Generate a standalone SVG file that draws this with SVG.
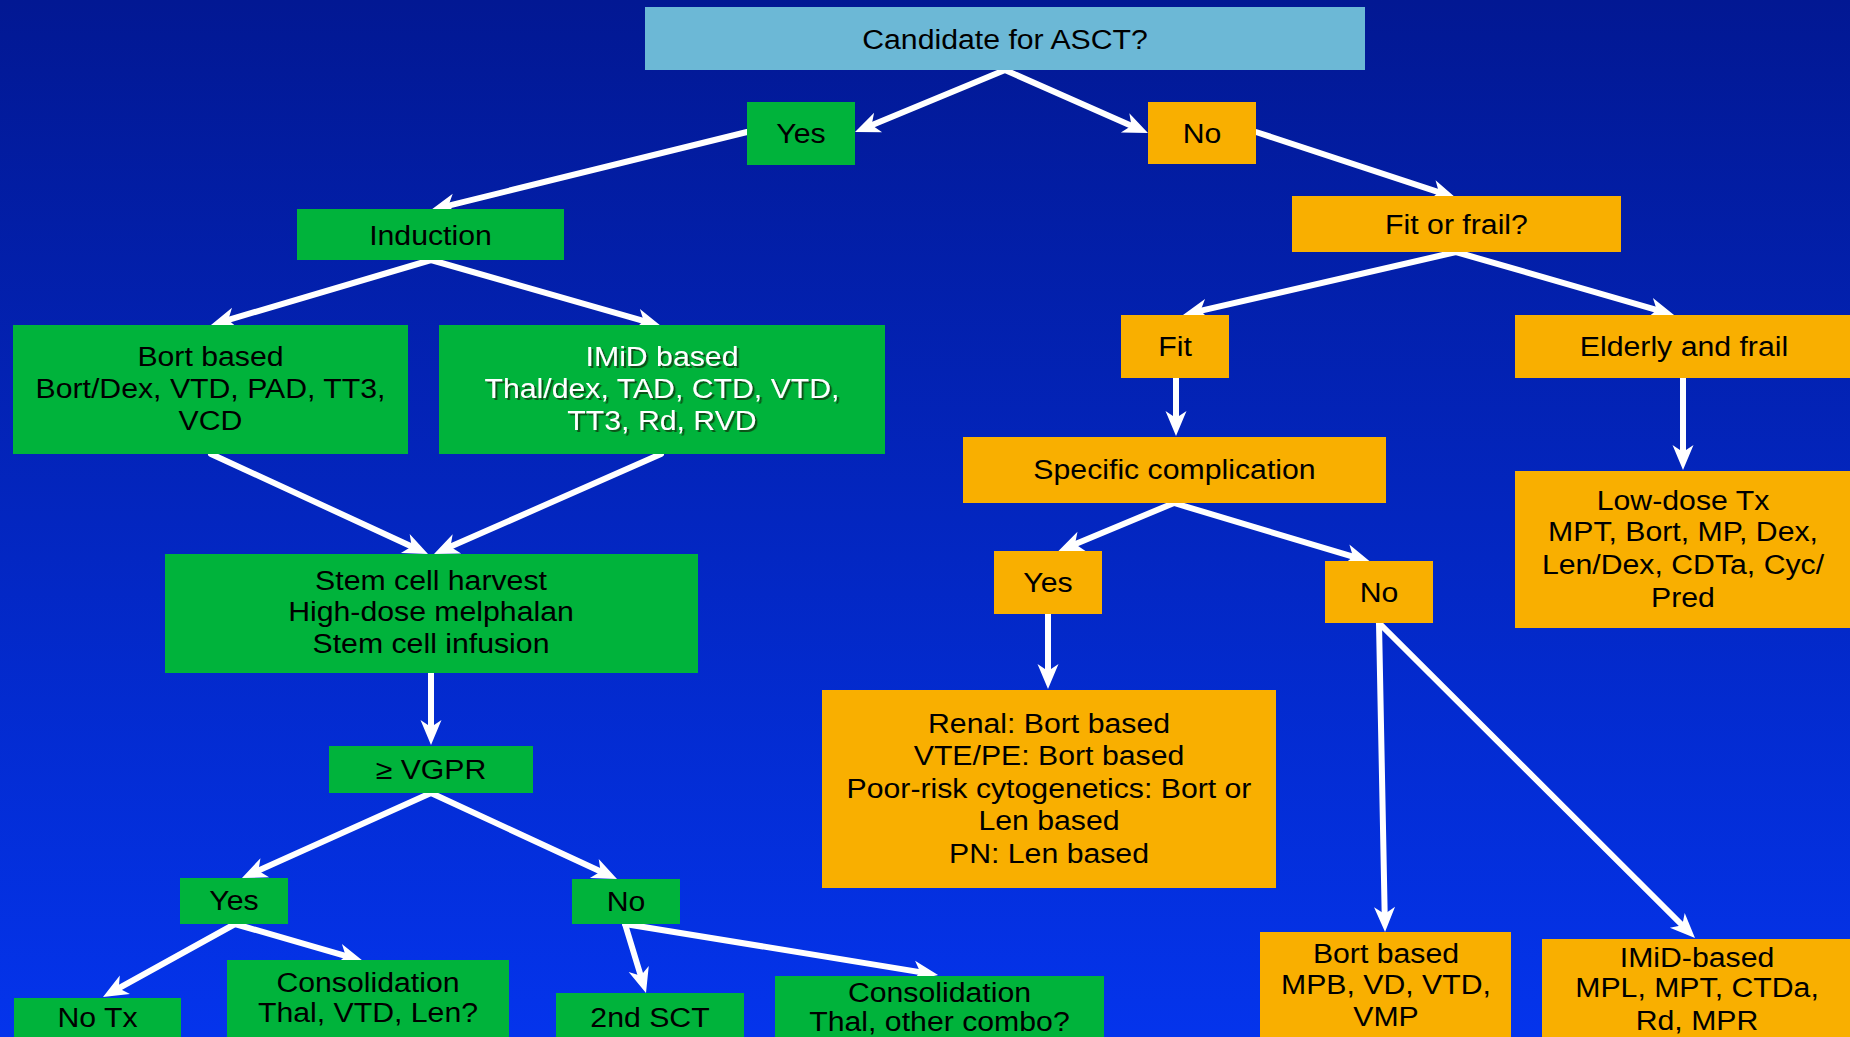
<svg xmlns="http://www.w3.org/2000/svg" width="1850" height="1037" viewBox="0 0 1850 1037">
<defs>
<linearGradient id="bg" x1="0" y1="0" x2="0" y2="1">
<stop offset="0" stop-color="#021893"/>
<stop offset="1" stop-color="#0434EC"/>
</linearGradient>
<marker id="ah" viewBox="-14 -11 28 22" refX="0" refY="0" markerWidth="28" markerHeight="22" markerUnits="userSpaceOnUse" orient="auto">
<path d="M12,0 L-13,-10.5 L-6,0 L-13,10.5 Z" fill="#fff"/>
</marker>
<filter id="sh" x="-10%" y="-10%" width="120%" height="130%">
<feDropShadow dx="2" dy="2" stdDeviation="0.6" flood-color="#0a3a10" flood-opacity="0.8"/>
</filter>
</defs>
<style>
.t{font-family:"Liberation Sans",Arial,sans-serif;font-size:27px;fill:#000;text-anchor:middle}
.w{fill:#fff;filter:url(#sh)}
.g{fill:#00B33B}
.o{fill:#F9AF00}
.b{fill:#6CB8D6}
.c line{stroke:#fff;stroke-width:6;stroke-linecap:round;marker-end:url(#ah)}
</style>
<rect width="1850" height="1037" fill="url(#bg)"/>

<g id="connectors" class="c">
<line x1="1005" y1="70" x2="866.1" y2="127.4"/>
<line x1="1005" y1="70" x2="1137" y2="128.2"/>
<line x1="747" y1="132" x2="442.6" y2="207.1"/>
<line x1="1256" y1="132" x2="1444.6" y2="194.2"/>
<line x1="431" y1="260" x2="222.5" y2="321.6"/>
<line x1="431" y1="260" x2="649.5" y2="322.7"/>
<line x1="211" y1="454" x2="417.1" y2="548.9"/>
<line x1="661" y1="454" x2="445" y2="549.1"/>
<line x1="431" y1="673" x2="431" y2="733"/>
<line x1="431" y1="793" x2="252.9" y2="873.1"/>
<line x1="431" y1="793" x2="606.1" y2="874"/>
<line x1="235" y1="924" x2="113.5" y2="991.1"/>
<line x1="235" y1="924" x2="351.5" y2="957.6"/>
<line x1="625" y1="924" x2="642.5" y2="981.5"/>
<line x1="625" y1="924" x2="926.2" y2="973.1"/>
<line x1="1456" y1="252" x2="1194.7" y2="312.2"/>
<line x1="1456" y1="252" x2="1662.5" y2="311.6"/>
<line x1="1176" y1="378" x2="1176" y2="424"/>
<line x1="1683" y1="378" x2="1683" y2="458"/>
<line x1="1174" y1="503" x2="1069.5" y2="546.4"/>
<line x1="1174" y1="503" x2="1358.8" y2="558.4"/>
<line x1="1048" y1="614" x2="1048" y2="677"/>
<line x1="1379" y1="623" x2="1384.8" y2="920"/>
<line x1="1379" y1="623" x2="1686.5" y2="929.5"/>
</g>

<g id="candidate"><rect class="b" x="645" y="7" width="720" height="63"/>
<text class="t" transform="matrix(1.12 0 0 1 1005 0)"><tspan x="0" y="49">Candidate for ASCT?</tspan></text></g>

<g id="yes1"><rect class="g" x="747" y="102" width="108" height="63"/>
<text class="t" transform="matrix(1.12 0 0 1 801 0)"><tspan x="0" y="143">Yes</tspan></text></g>

<g id="no1"><rect class="o" x="1148" y="102" width="108" height="62"/>
<text class="t" transform="matrix(1.12 0 0 1 1202 0)"><tspan x="0" y="143">No</tspan></text></g>

<g id="induction"><rect class="g" x="297" y="209" width="267" height="51"/>
<text class="t" transform="matrix(1.12 0 0 1 430.5 0)"><tspan x="0" y="245">Induction</tspan></text></g>

<g id="bort"><rect class="g" x="13" y="325" width="395" height="129"/>
<text class="t" transform="matrix(1.12 0 0 1 210.5 0)"><tspan x="0" y="366">Bort based</tspan><tspan x="0" y="398">Bort/Dex, VTD, PAD, TT3,</tspan><tspan x="0" y="430">VCD</tspan></text></g>

<g id="imid"><rect class="g" x="439" y="325" width="446" height="129"/>
<text class="t w" transform="matrix(1.12 0 0 1 662 0)"><tspan x="0" y="366">IMiD based</tspan><tspan x="0" y="398">Thal/dex, TAD, CTD, VTD,</tspan><tspan x="0" y="430">TT3, Rd, RVD</tspan></text></g>

<g id="stemcell"><rect class="g" x="165" y="554" width="533" height="119"/>
<text class="t" transform="matrix(1.12 0 0 1 431 0)"><tspan x="0" y="590">Stem cell harvest</tspan><tspan x="0" y="621">High-dose melphalan</tspan><tspan x="0" y="653">Stem cell infusion</tspan></text></g>

<g id="vgpr"><rect class="g" x="329" y="746" width="204" height="47"/>
<text class="t" transform="matrix(1.12 0 0 1 431 0)"><tspan x="0" y="779">≥ VGPR</tspan></text></g>

<g id="yes2"><rect class="g" x="180" y="878" width="108" height="46"/>
<text class="t" transform="matrix(1.12 0 0 1 234 0)"><tspan x="0" y="910">Yes</tspan></text></g>

<g id="no2"><rect class="g" x="572" y="879" width="108" height="45"/>
<text class="t" transform="matrix(1.12 0 0 1 626 0)"><tspan x="0" y="911">No</tspan></text></g>

<g id="notx"><rect class="g" x="14" y="998" width="167" height="45"/>
<text class="t" transform="matrix(1.12 0 0 1 97.5 0)"><tspan x="0" y="1027">No Tx</tspan></text></g>

<g id="consol1"><rect class="g" x="227" y="960" width="282" height="83"/>
<text class="t" transform="matrix(1.12 0 0 1 368 0)"><tspan x="0" y="992">Consolidation</tspan><tspan x="0" y="1022">Thal, VTD, Len?</tspan></text></g>

<g id="sct2"><rect class="g" x="556" y="993" width="188" height="50"/>
<text class="t" transform="matrix(1.12 0 0 1 650 0)"><tspan x="0" y="1027">2nd SCT</tspan></text></g>

<g id="consol2"><rect class="g" x="775" y="976" width="329" height="67"/>
<text class="t" transform="matrix(1.12 0 0 1 939.5 0)"><tspan x="0" y="1002">Consolidation</tspan><tspan x="0" y="1031">Thal, other combo?</tspan></text></g>

<g id="fitfrail"><rect class="o" x="1292" y="196" width="329" height="56"/>
<text class="t" transform="matrix(1.12 0 0 1 1456.5 0)"><tspan x="0" y="234">Fit or frail?</tspan></text></g>

<g id="fit"><rect class="o" x="1121" y="315" width="108" height="63"/>
<text class="t" transform="matrix(1.12 0 0 1 1175 0)"><tspan x="0" y="356">Fit</tspan></text></g>

<g id="elderly"><rect class="o" x="1515" y="315" width="340" height="63"/>
<text class="t" transform="matrix(1.12 0 0 1 1684 0)"><tspan x="0" y="356">Elderly and frail</tspan></text></g>

<g id="specific"><rect class="o" x="963" y="437" width="423" height="66"/>
<text class="t" transform="matrix(1.12 0 0 1 1174.5 0)"><tspan x="0" y="479">Specific complication</tspan></text></g>

<g id="lowdose"><rect class="o" x="1515" y="471" width="340" height="157"/>
<text class="t" transform="matrix(1.12 0 0 1 1683 0)"><tspan x="0" y="510">Low-dose Tx</tspan><tspan x="0" y="541">MPT, Bort, MP, Dex,</tspan><tspan x="0" y="574">Len/Dex, CDTa, Cyc/</tspan><tspan x="0" y="607">Pred</tspan></text></g>

<g id="yes3"><rect class="o" x="994" y="551" width="108" height="63"/>
<text class="t" transform="matrix(1.12 0 0 1 1048 0)"><tspan x="0" y="592">Yes</tspan></text></g>

<g id="no3"><rect class="o" x="1325" y="561" width="108" height="62"/>
<text class="t" transform="matrix(1.12 0 0 1 1379 0)"><tspan x="0" y="602">No</tspan></text></g>

<g id="renal"><rect class="o" x="822" y="690" width="454" height="198"/>
<text class="t" transform="matrix(1.12 0 0 1 1049 0)"><tspan x="0" y="733">Renal: Bort based</tspan><tspan x="0" y="765">VTE/PE: Bort based</tspan><tspan x="0" y="798">Poor-risk cytogenetics: Bort or</tspan><tspan x="0" y="830">Len based</tspan><tspan x="0" y="863">PN: Len based</tspan></text></g>

<g id="bortmpb"><rect class="o" x="1260" y="932" width="251" height="111"/>
<text class="t" transform="matrix(1.12 0 0 1 1386 0)"><tspan x="0" y="963">Bort based</tspan><tspan x="0" y="994">MPB, VD, VTD,</tspan><tspan x="0" y="1026">VMP</tspan></text></g>

<g id="imidbased"><rect class="o" x="1542" y="939" width="313" height="104"/>
<text class="t" transform="matrix(1.12 0 0 1 1697 0)"><tspan x="0" y="967">IMiD-based</tspan><tspan x="0" y="997">MPL, MPT, CTDa,</tspan><tspan x="0" y="1030">Rd, MPR</tspan></text></g>
</svg>
